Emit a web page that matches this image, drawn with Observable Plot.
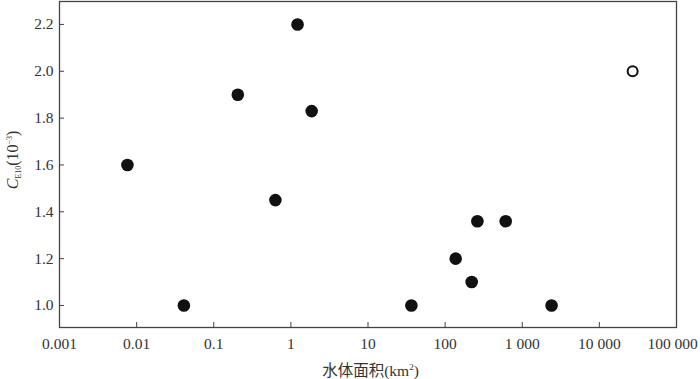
<!DOCTYPE html>
<html>
<head>
<meta charset="utf-8">
<script src="https://cdn.jsdelivr.net/npm/d3@7"></script>
<script src="https://cdn.jsdelivr.net/npm/@observablehq/plot@0.6"></script>
<style>
  html, body { margin: 0; padding: 0; background: #fff; }
  #chart svg { display: block; }
  #chart svg text, #chart svg tspan { font-family: "Liberation Serif", "DejaVu Serif", "Noto Sans CJK SC", serif !important; }
</style>
</head>
<body>
<div id="chart"></div>
<script>
// Water-body area (km²)
const area = [0.0076, 0.041, 0.205, 0.63, 1.22, 1.86, 36.5, 137, 221, 262, 610, 2400, 27000];
// C_E10 (10^-3)
const cE10 = [1.60, 1.00, 1.90, 1.45, 2.20, 1.83, 1.00, 1.20, 1.10, 1.36, 1.36, 1.00, 2.00];
// marker style: filled or open
const kind = ["filled","filled","filled","filled","filled","filled","filled","filled","filled","filled","filled","filled","open"];

const xTicks = [0.001, 0.01, 0.1, 1, 10, 100, 1000, 10000, 100000];
const xTickLabels = ["0.001", "0.01", "0.1", "1", "10", "100", "1 000", "10 000", "100 000"];
const yTicks = [1.0, 1.2, 1.4, 1.6, 1.8, 2.0, 2.2];

const data = area.map((a, i) => ({area: a, c: cE10[i], kind: kind[i]}));
const filled = data.filter(d => d.kind === "filled");
const open = data.filter(d => d.kind === "open");

const ink = "#333";
const font = "Liberation Serif, serif";

const plot = Plot.plot({
  width: 700,
  height: 379,
  marginLeft: 59,
  marginRight: 24,
  marginTop: 1,
  marginBottom: 52,
  style: {fontFamily: font, fontSize: "15.5px", color: ink, background: "#fff"},
  x: {type: "log", domain: [0.001, 100000]},
  y: {domain: [0.906, 2.298]},
  marks: [
    Plot.frame({stroke: "#444", strokeWidth: 1.3}),
    Plot.axisX(xTicks, {
      tickSize: -5, stroke: "#444",
      tickPadding: 15,
      tickFormat: d => xTickLabels[xTicks.indexOf(d)],
      label: null, fill: ink, fontSize: 15.5
    }),
    Plot.axisY(yTicks, {
      tickSize: -5, stroke: "#444",
      tickPadding: 11,
      tickFormat: d => d.toFixed(1),
      label: null, fill: ink, fontSize: 15.5
    }),
    Plot.dot(filled, {x: "area", y: "c", r: 6.3, fill: "#111", stroke: "none"}),
    Plot.dot(open, {x: "area", y: "c", r: 5, fill: "#fff", stroke: "#111", strokeWidth: 2})
  ]
});

document.getElementById("chart").appendChild(plot);

const svg = d3.select(plot);

// keep the last x tick label ("100 000") inside the picture
const lastLabel = svg.selectAll("text").filter(function () {
  return this.textContent === xTickLabels[xTickLabels.length - 1];
}).node();
if (lastLabel) {
  const r = lastLabel.getBoundingClientRect();
  const s = plot.getBoundingClientRect();
  const over = (r.right - s.left) - 698;
  if (over > 0) d3.select(lastLabel).attr("dx", -over);
}

// axis titles
const xs = plot.scale("x");
const cx = (xs.range[0] + xs.range[1]) / 2;

const xt = svg.append("text")
  .attr("x", cx + 3).attr("y", 376)
  .attr("text-anchor", "middle")
  .attr("fill", ink)
  .style("font-size", "15.5px");
xt.append("tspan").text("水体面积(km");
xt.append("tspan").attr("dy", -6).style("font-size", "9px").text("2");
xt.append("tspan").attr("dy", 6).text(")");

const ys = plot.scale("y");
const cy = (ys.range[0] + ys.range[1]) / 2;
const yt = svg.append("text")
  .attr("transform", `translate(18,${cy - 4}) rotate(-90)`)
  .attr("text-anchor", "middle")
  .attr("fill", ink)
  .style("font-size", "16px");
yt.append("tspan").style("font-style", "italic").text("C");
yt.append("tspan").attr("dy", 3).style("font-size", "8px").text("E10");
yt.append("tspan").attr("dy", -3).text("(10");
yt.append("tspan").attr("dy", -6).style("font-size", "8px").text("−3");
yt.append("tspan").attr("dy", 6).text(")");
</script>
</body>
</html>
